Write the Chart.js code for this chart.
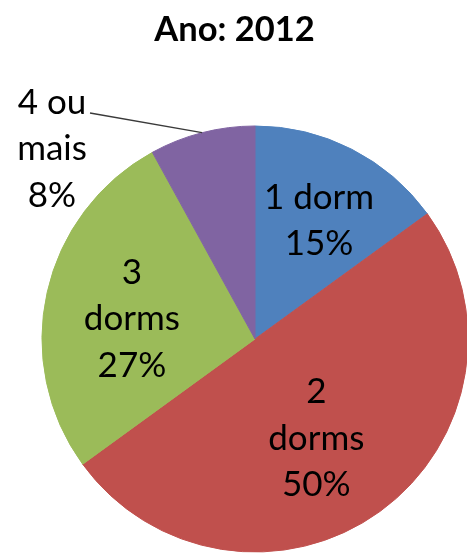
<!DOCTYPE html>
<html>
<head>
<meta charset="utf-8">
<script src="https://cdn.jsdelivr.net/npm/chart.js@4"></script>
<style>
  html, body { margin: 0; padding: 0; background: #fff; overflow: hidden; }
</style>
</head>
<body>
<canvas id="pie-chart" width="467" height="554"></canvas>
<script>
const chartTitle = "Ano: 2012";
const categories = ["1 dorm", "2 dorms", "3 dorms", "4 ou mais"];
const labelLines = [["1 dorm"], ["2", "dorms"], ["3", "dorms"], ["4 ou", "mais"]];
const shares = [15, 50, 27, 8];
const colors = ["#4F81BD", "#C0504D", "#9BBB59", "#8064A2"];

// where the labels sit: share of the radius and a small turn (deg) off the slice middle
// null = outside, with a leader line
const labelDist = [0.64, 0.54, 0.587, null];
const labelTurn = [1, 3.8, -2.5, 0];
const outsideLabel = { x: 52, y: 149, lineX: 90, lineY: 113 };
const lineGap = 46.5;

const labelPlugin = {
  id: "sliceLabels",
  afterDatasetsDraw(chart) {
    const c = chart.ctx;
    const arcs = chart.getDatasetMeta(0).data;
    c.save();
    c.fillStyle = "#000";
    c.textAlign = "center";
    c.textBaseline = "middle";
    c.font = "35px Lato";
    arcs.forEach((arc, i) => {
      const p = arc.getProps(["x", "y", "startAngle", "endAngle", "outerRadius"], true);
      const mid = (p.startAngle + p.endAngle) / 2;
      const lines = labelLines[i].concat(shares[i] + "%");
      let cx, cy;
      if (labelDist[i]) {
        const a = mid + labelTurn[i] * Math.PI / 180;
        cx = p.x + Math.cos(a) * p.outerRadius * labelDist[i];
        cy = p.y + Math.sin(a) * p.outerRadius * labelDist[i] + 2;
      } else {
        c.strokeStyle = "#3a3a3a";
        c.lineWidth = 1.3;
        c.beginPath();
        c.moveTo(outsideLabel.lineX, outsideLabel.lineY);
        c.lineTo(p.x + Math.cos(mid) * p.outerRadius, p.y + Math.sin(mid) * p.outerRadius);
        c.stroke();
        cx = outsideLabel.x;
        cy = outsideLabel.y;
      }
      const top = cy - (lines.length - 1) * lineGap / 2;
      lines.forEach((t, k) => c.fillText(t, cx, top + k * lineGap));
    });
    c.font = "bold 34.5px Lato";
    c.fillText(chartTitle, chart.width / 2 + 1, 30);
    c.restore();
  }
};

const ctx = document.getElementById("pie-chart");

const myChart = new Chart(ctx, {
  type: "pie",
  data: {
    labels: categories,
    datasets: [
      {
        data: shares,
        backgroundColor: colors,
        borderColor: colors,
        borderWidth: 1,
      },
    ],
  },
  options: {
    responsive: false,
    animation: false,
    radius: 213,
    layout: {
      padding: { top: 126, bottom: 2, left: 43, right: 0 },
    },
    plugins: {
      legend: { display: false },
      tooltip: { enabled: false },
      title: { display: false },
    },
  },
  plugins: [labelPlugin],
});
</script>
</body>
</html>
